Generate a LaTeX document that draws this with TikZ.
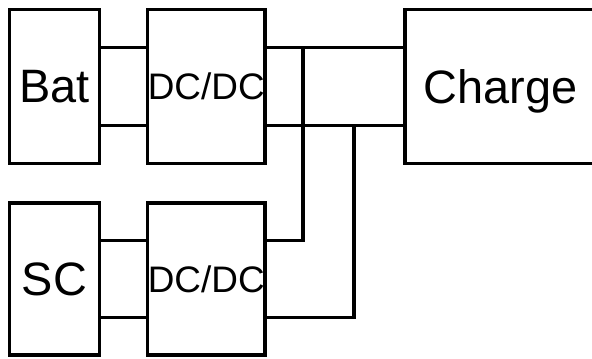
\documentclass[tikz,border=0pt]{standalone}
\usepackage{fontspec}
\setmainfont{Liberation Sans}
\usetikzlibrary{calc}

\begin{document}
\begin{tikzpicture}[x=0.03cm, y=-0.03cm, line width=2.8pt,
  box/.style={draw, inner sep=0pt, text depth=0pt, font=\fontsize{40}{40}\selectfont},
  conv/.style={box, minimum width=3.525cm, font=\fontsize{31.5}{31.5}\selectfont}]
  \useasboundingbox (0,0) rectangle (592,358);
  \node[box, minimum width=2.7cm, minimum height=4.62cm] (bat) at (54.5,86.5) {Bat};
  \node[conv, minimum height=4.62cm] (dctop) at (206.25,86.5) {DC/DC};
  \node[box, minimum width=5.73cm, minimum height=4.62cm] (charge) at (500.5,86.5) {Charge};
  \node[box, minimum width=2.7cm, minimum height=4.56cm] (sc) at (54.5,279) {SC};
  \node[conv, minimum height=4.56cm] (dcbot) at (206.25,279) {DC/DC};
  % battery branch
  \draw ($(bat.north east)!.25!(bat.south east)$) -- ($(dctop.north west)!.25!(dctop.south west)$);
  \draw ($(bat.north east)!.75!(bat.south east)$) -- ($(dctop.north west)!.75!(dctop.south west)$);
  \draw ($(dctop.north east)!.25!(dctop.south east)$) -- ($(charge.north west)!.25!(charge.south west)$);
  \draw ($(dctop.north east)!.75!(dctop.south east)$) -- ($(charge.north west)!.75!(charge.south west)$);
  % supercap branch
  \draw ($(sc.north east)!.25!(sc.south east)$) -- ($(dcbot.north west)!.25!(dcbot.south west)$);
  \draw ($(sc.north east)!.75!(sc.south east)$) -- ($(dcbot.north west)!.75!(dcbot.south west)$);
  \coordinate (tapa) at (303,48);
  \coordinate (tapb) at (354,125);
  \draw (tapa) |- ($(dcbot.north east)!.25!(dcbot.south east)$);
  \draw (tapb) |- ($(dcbot.north east)!.75!(dcbot.south east)$);
\end{tikzpicture}
\end{document}
